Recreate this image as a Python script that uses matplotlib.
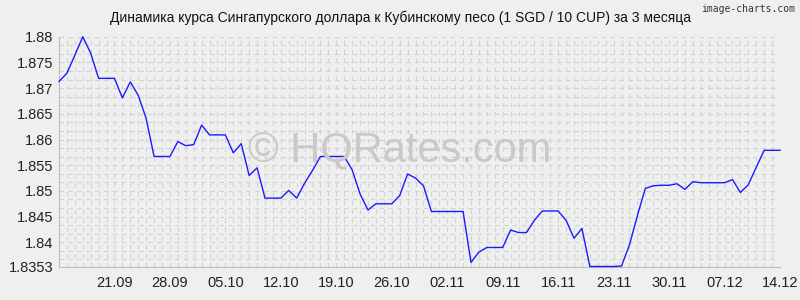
import numpy as np
import pandas as pd
import matplotlib
matplotlib.use("Agg")
import matplotlib.pyplot as plt

# курс SGD/CUP (1 SGD / 10 CUP), по дням
dates = pd.date_range("2023-09-14", "2023-12-14", freq="D")
rates = [
    1.8713, 1.8729, 1.8764, 1.8800, 1.8768, 1.8719, 1.8719, 1.8719, 1.8681, 1.8712,
    1.8686, 1.8641, 1.8567, 1.8567, 1.8567, 1.8596, 1.8588, 1.8590, 1.8628, 1.8609,
    1.8609, 1.8609, 1.8574, 1.8592, 1.8530, 1.8545, 1.8486, 1.8486, 1.8486, 1.8501,
    1.8486, 1.8515, 1.8540, 1.8567, 1.8567, 1.8567, 1.8567, 1.8541, 1.8494, 1.8463,
    1.8475, 1.8475, 1.8475, 1.8491, 1.8533, 1.8525, 1.8510, 1.8460, 1.8460, 1.8460,
    1.8460, 1.8460, 1.8361, 1.8381, 1.8390, 1.8390, 1.8390, 1.8424, 1.8419, 1.8419,
    1.8443, 1.8461, 1.8461, 1.8461, 1.8443, 1.8408, 1.8427, 1.8353, 1.8353, 1.8353,
    1.8353, 1.8354, 1.8395, 1.8452, 1.8505, 1.8510, 1.8511, 1.8511, 1.8514, 1.8503,
    1.8518, 1.8516, 1.8516, 1.8516, 1.8516, 1.8522, 1.8497, 1.8512, 1.8546, 1.8579,
    1.8579, 1.8579,
]
x_labels = ["21.09", "28.09", "05.10", "12.10", "19.10", "26.10", "02.11",
            "09.11", "16.11", "23.11", "30.11", "07.12", "14.12"]
y_ticks = [1.8353, 1.84, 1.845, 1.85, 1.855, 1.86, 1.865, 1.87, 1.875, 1.88]
y_labels = ["1.8353", "1.84", "1.845", "1.85", "1.855", "1.86", "1.865", "1.87", "1.875", "1.88"]
title = "Динамика курса Сингапурского доллара к Кубинскому песо (1 SGD / 10 CUP) за 3 месяца"

bg = "#efefef"
plt.rcParams["font.family"] = ["Liberation Sans", "DejaVu Sans"]

fig = plt.figure(figsize=(8, 3), dpi=100, facecolor=bg)
ax = fig.add_axes([59 / 800, 1 - 266.5 / 300, 721 / 800, 229.8 / 300], facecolor=bg)

days = np.arange(len(dates))
ax.set_xlim(0, days[-1])
ax.set_ylim(y_ticks[0], y_ticks[-1])

# сетка: каждый день по x, шаг 0.005/3 по y
for d in days[1:]:
    ax.axvline(d, color="#d2d2d2", lw=0.8, ls=(0, (4, 4)), zorder=1)
for v in np.arange(1.88, 1.8353, -0.005 / 3)[1:]:
    ax.axhline(v, color="#d2d2d2", lw=0.8, ls=(0, (4, 4)), zorder=1)
ax.axhline(1.88, color="#d2d2d2", lw=0.8, ls=(0, (4, 4)), zorder=1)

fig.text(400 / 800, 1 - 161.5 / 300, "© HQRates.com", ha="center", va="baseline",
         fontsize=30, color="#c9c9c9", zorder=0.5)

ax.plot(days, rates, color="#1a1aff", lw=1.0, zorder=3, clip_on=False)

tick_pos = [days[dates.strftime("%d.%m") == lab][0] for lab in x_labels]
ax.set_xticks(tick_pos)
ax.set_xticklabels(x_labels)
ax.set_yticks(y_ticks)
ax.set_yticklabels(y_labels)
ax.tick_params(length=0, labelsize=10.5, colors="#222222", pad=4)
ax.tick_params(axis="x", pad=7)

for side in ["top", "right"]:
    ax.spines[side].set_visible(False)
ax.spines["left"].set_color("#bbbbbb")
ax.spines["bottom"].set_color("#bbbbbb")

fig.text(0.5, 1 - 18 / 300, title, ha="center", va="center", fontsize=10, color="#111111")
fig.text(795 / 800, 1 - 9 / 300, "image-charts.com", ha="right", va="center",
         fontsize=7, family="DejaVu Sans Mono", color="#333333")

fig.savefig("out.png", dpi=100, facecolor=bg)
